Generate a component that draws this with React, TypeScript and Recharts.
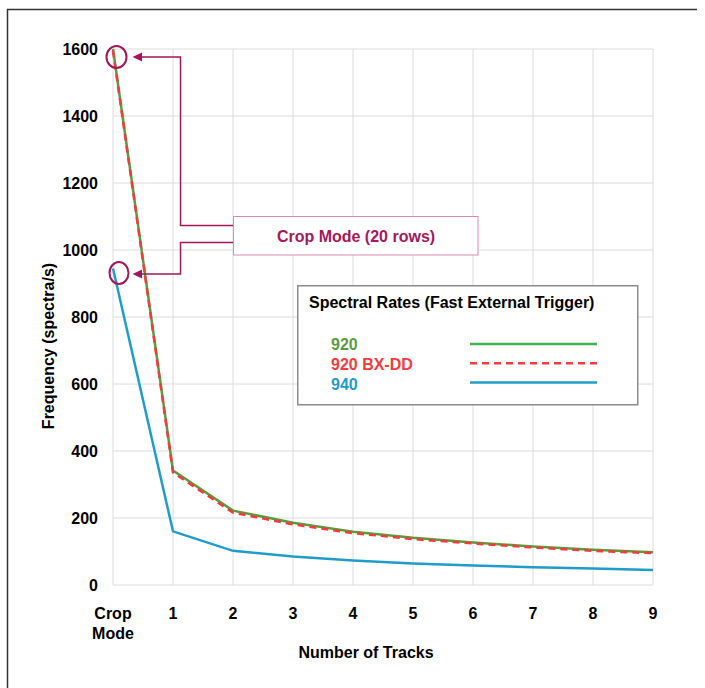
import React from 'react';
import { LineChart, Line, XAxis, YAxis, CartesianGrid, Legend } from 'recharts';

const categories = ['Crop Mode', '1', '2', '3', '4', '5', '6', '7', '8', '9'];
const s920 = [1600, 342, 222, 186, 159, 141, 127, 115, 105, 98];
const s920bx = [1595, 336, 216, 181, 155, 137, 124, 112, 102, 95];
const s940 = [945, 160, 102, 85, 73, 64, 58, 53, 49, 45];
const yTicks = [0, 200, 400, 600, 800, 1000, 1200, 1400, 1600];

const seriesInfo = [
  { key: 'a', name: '920', line: '#5b9b3c', sample: '#3cb54e', label: '#5b9b3f', dash: undefined as string | undefined },
  { key: 'b', name: '920 BX-DD', line: '#f03c3c', sample: '#f03c3c', label: '#f03c3c', dash: '7 5' },
  { key: 'c', name: '940', line: '#1f9cc8', sample: '#1f9cc8', label: '#1f9cc8', dash: undefined },
];

const data = categories.map((c, i) => ({ cat: c, a: s920[i], b: s920bx[i], c: s940[i] }));

const FONT = '"Liberation Sans", Arial, sans-serif';
const MAG = '#a0185a';

const XTick = (props: any) => {
  const { x, y, payload } = props;
  const words = String(payload.value).split(' ');
  return (
    <text x={x} y={y} textAnchor="middle" fontFamily={FONT} fontWeight="bold" fontSize={16} fill="#000">
      {words.map((w: string, i: number) => (
        <tspan key={i} x={x} dy={i === 0 ? '0.71em' : 20}>{w}</tspan>
      ))}
    </text>
  );
};

const LegendBox = () => (
  <svg width={342} height={121} style={{ display: 'block' }}>
    <rect x={0.75} y={0.75} width={340} height={119} fill="#fff" stroke="#8c8c8c" strokeWidth={1.5} />
    <text x={12} y={23} fontFamily={FONT} fontWeight="bold" fontSize={16} fill="#000">
      Spectral Rates (Fast External Trigger)
    </text>
    {seriesInfo.map((s, i) => (
      <g key={s.key}>
        <text x={34} y={65 + i * 20} fontFamily={FONT} fontWeight="bold" fontSize={16} fill={s.label}>{s.name}</text>
        <line x1={173} x2={300} y1={59 + i * 19.2} y2={59 + i * 19.2} stroke={s.sample} strokeWidth={2.5} strokeDasharray={s.dash} />
      </g>
    ))}
  </svg>
);

const Annotations = () => (
  <svg width={705} height={688} style={{ position: 'absolute', left: 0, top: 0, pointerEvents: 'none' }}>
    <line x1={7} y1={9.5} x2={697} y2={9.5} stroke="#333" strokeWidth={1.5} />
    <line x1={7.5} y1={9} x2={7.5} y2={688} stroke="#333" strokeWidth={1.5} />
    <ellipse cx={116.5} cy={57} rx={10} ry={11} fill="none" stroke={MAG} strokeWidth={2} />
    <ellipse cx={119} cy={273} rx={9.5} ry={11} fill="none" stroke={MAG} strokeWidth={2} />
    <polyline points="233,225.5 180.5,225.5 180.5,57 140,57" fill="none" stroke={MAG} strokeWidth={1.5} />
    <polygon points="132.5,57 142,52.5 142,61.5" fill={MAG} />
    <polyline points="233,242.5 180.5,242.5 180.5,274 140,274" fill="none" stroke={MAG} strokeWidth={1.5} />
    <polygon points="132.5,274 142,269.5 142,278.5" fill={MAG} />
    <rect x={233.5} y={216.5} width={244.5} height={38.5} fill="#fff" stroke="#d98ab4" strokeWidth={1} />
    <text x={356} y={242} textAnchor="middle" fontFamily={FONT} fontWeight="bold" fontSize={16} fill="#a3195b">
      Crop Mode (20 rows)
    </text>
  </svg>
);

export default function App() {
  return (
    <div style={{ position: 'absolute', left: 0, top: 0, width: 705, height: 688, background: '#fff' }}>
      <LineChart width={705} height={688} data={data} margin={{ top: 49, right: 52, left: 43, bottom: 43 }}>
        <CartesianGrid stroke="#dcdcdc" strokeWidth={1} />
        <XAxis
          dataKey="cat"
          height={60}
          axisLine={false}
          tickLine={false}
          tickSize={0}
          tickMargin={23}
          interval={0}
          tick={<XTick />}
          label={{
            content: () => (
              <text x={366} y={658} textAnchor="middle" fontFamily={FONT} fontWeight="bold" fontSize={16} fill="#000">
                Number of Tracks
              </text>
            ),
          }}
        />
        <YAxis
          width={70}
          domain={[0, 1600]}
          ticks={yTicks}
          axisLine={false}
          tickLine={false}
          tickSize={0}
          tickMargin={15}
          tick={{ fontFamily: FONT, fontWeight: 'bold', fontSize: 16, fill: '#000' }}
          label={{
            content: () => (
              <text x={48} y={346} transform="rotate(-90 48 346)" textAnchor="middle" dominantBaseline="central" fontFamily={FONT} fontWeight="bold" fontSize={16} fill="#000">
                Frequency (spectra/s)
              </text>
            ),
          }}
        />
        {seriesInfo.map((s) => (
          <Line
            key={s.key}
            dataKey={s.key}
            name={s.name}
            type="linear"
            stroke={s.line}
            strokeWidth={2.5}
            strokeDasharray={s.dash}
            dot={false}
            activeDot={false}
            isAnimationActive={false}
          />
        ))}
        <Legend
          layout="vertical"
          align="center"
          verticalAlign="middle"
          content={<LegendBox />}
          wrapperStyle={{ position: 'absolute', left: 297, top: 285, width: 342, height: 121 }}
        />
      </LineChart>
      <Annotations />
    </div>
  );
}
